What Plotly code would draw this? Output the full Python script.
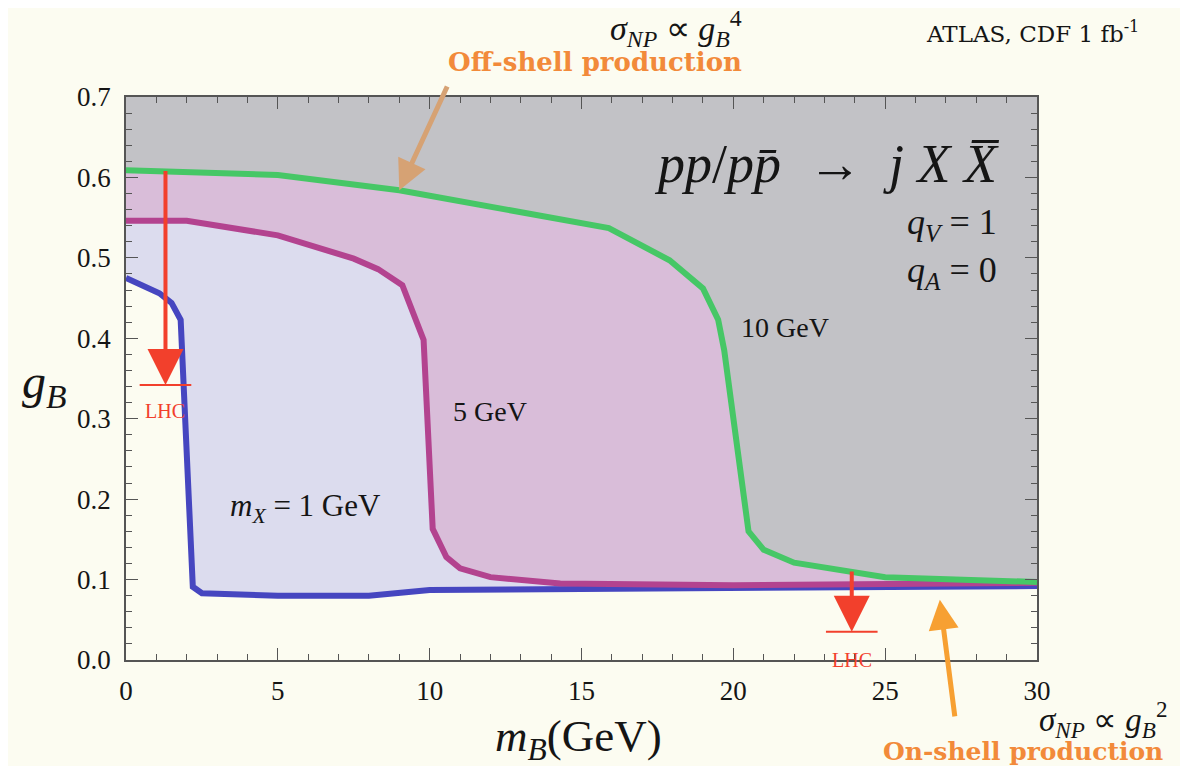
import plotly.graph_objects as go

# ---------------- data ----------------
mB_1 = [0, 1.1, 1.5, 1.8, 2.2, 2.5, 5, 8, 10, 15, 20, 25, 30]
gB_1 = [0.475, 0.456, 0.444, 0.423, 0.091, 0.083, 0.080, 0.080, 0.087, 0.088, 0.089, 0.090, 0.092]

mB_5 = [0, 2, 5, 7.5, 8.3, 9.1, 9.8, 10.1, 10.55, 11.0, 12.0, 14.3, 20, 25, 30]
gB_5 = [0.546, 0.546, 0.528, 0.499, 0.486, 0.466, 0.398, 0.163, 0.128, 0.114, 0.103, 0.095, 0.093, 0.094, 0.096]

mB_10 = [0, 5, 9, 15.9, 17.9, 19.0, 19.5, 19.7, 20.5, 21.0, 22.0, 25.0, 30]
gB_10 = [0.609, 0.603, 0.584, 0.537, 0.497, 0.462, 0.423, 0.385, 0.160, 0.137, 0.121, 0.103, 0.097]

lhc_x = [1.3, 23.9]
lhc_from = [0.61, 0.112]
lhc_limit = [0.342, 0.035]

x_ticks = [0, 5, 10, 15, 20, 25, 30]
y_ticks = [0.0, 0.1, 0.2, 0.3, 0.4, 0.5, 0.6, 0.7]

# ---------------- style ----------------
SERIF = "Liberation Serif"
WIDE = "DejaVu Serif"
BG = "#fcfcf1"
GRAY = "#c2c2c6"
LAV = "#dcdcee"
PINK = "#d9bdd9"
C_BLUE = "#4646c0"
C_MAG = "#b3438f"
C_GRN = "#46c766"
RED = "#f2402c"
ORANGE = "#f28a3a"
INK = "#151515"

fig = go.Figure()

# fills (region boundaries)
fig.add_trace(go.Scatter(x=mB_1, y=gB_1, mode="lines", line=dict(width=0, color=C_BLUE),
                         fill="tozeroy", fillcolor=BG, showlegend=False, hoverinfo="skip"))
fig.add_trace(go.Scatter(x=mB_5, y=gB_5, mode="lines", line=dict(width=0, color=C_MAG),
                         fill="tonexty", fillcolor=LAV, showlegend=False, hoverinfo="skip"))
fig.add_trace(go.Scatter(x=mB_10, y=gB_10, mode="lines", line=dict(width=0, color=C_GRN),
                         fill="tonexty", fillcolor=PINK, showlegend=False, hoverinfo="skip"))

# curves on top
for xs, ys, c in [(mB_1, gB_1, C_BLUE), (mB_5, gB_5, C_MAG), (mB_10, gB_10, C_GRN)]:
    fig.add_trace(go.Scatter(x=xs, y=ys, mode="lines", line=dict(width=6, color=c),
                             showlegend=False, hoverinfo="skip"))

# LHC limit bars
for xv, yl in zip(lhc_x, lhc_limit):
    fig.add_trace(go.Scatter(x=[xv - 0.85, xv + 0.85], y=[yl, yl], mode="lines",
                             line=dict(width=2, color=RED), showlegend=False, hoverinfo="skip"))

ann = []
# LHC arrows
for xv, yf, yl in zip(lhc_x, lhc_from, lhc_limit):
    ann.append(dict(x=xv, y=yl, ax=xv, ay=yf, xref="x", yref="y", axref="x", ayref="y",
                    showarrow=True, arrowhead=2, arrowsize=1.8, arrowwidth=4, arrowcolor=RED,
                    text=""))
ann.append(dict(x=lhc_x[0], y=lhc_limit[0] - 0.032, xref="x", yref="y", text="LHC", showarrow=False,
                font=dict(family=SERIF, size=20, color=RED)))
ann.append(dict(x=lhc_x[1], y=lhc_limit[1] - 0.035, xref="x", yref="y", text="LHC", showarrow=False,
                font=dict(family=SERIF, size=20, color=RED)))

# production arrows
ann.append(dict(x=9.0, y=0.584, ax=10.6, ay=0.715, xref="x", yref="y", axref="x", ayref="y",
                showarrow=True, arrowhead=2, arrowsize=1.2, arrowwidth=5, arrowcolor="#d6a274", text=""))
ann.append(dict(x=26.8, y=0.075, ax=27.3, ay=-0.072, xref="x", yref="y", axref="x", ayref="y",
                showarrow=True, arrowhead=2, arrowsize=1.2, arrowwidth=5, arrowcolor="#f7a032", text=""))

# texts in plot
ann.append(dict(x=23.1, y=0.617, xref="x", yref="y", showarrow=False,
                text="<i>pp</i>/<i>p</i><i>p̄</i>&nbsp;&nbsp;→&nbsp;&nbsp;<i>j</i>&nbsp;<i>X</i>&nbsp;<i>X̅</i>",
                font=dict(family=SERIF, size=54, color=INK)))
ann.append(dict(x=27.2, y=0.541, xref="x", yref="y", showarrow=False,
                text="<i>q</i><sub><i>V</i></sub> = 1", font=dict(family=SERIF, size=36, color=INK)))
ann.append(dict(x=27.2, y=0.482, xref="x", yref="y", showarrow=False,
                text="<i>q</i><sub><i>A</i></sub> = 0", font=dict(family=SERIF, size=36, color=INK)))
ann.append(dict(x=21.7, y=0.413, xref="x", yref="y", showarrow=False,
                text="10 GeV", font=dict(family=SERIF, size=28, color=INK)))
ann.append(dict(x=12.0, y=0.309, xref="x", yref="y", showarrow=False,
                text="5 GeV", font=dict(family=SERIF, size=28, color=INK)))
ann.append(dict(x=5.9, y=0.189, xref="x", yref="y", showarrow=False,
                text="<i>m</i><sub><i>X</i></sub> = 1 GeV", font=dict(family=SERIF, size=31, color=INK)))

# texts outside (paper coords, centre anchored)
def pa(x, y, text, font):
    return dict(x=x, y=y, xref="paper", yref="paper", xanchor="center", yanchor="middle",
                showarrow=False, text=text, font=font)

ann.append(pa(0.604, 1.121, "<i>σ</i><sub><i>NP</i></sub> ∝ <i>g</i><sub><i>B</i></sub><sup>4</sup>",
              dict(family=SERIF, size=34, color=INK)))
ann.append(pa(0.995, 1.115, "ATLAS, CDF 1 fb<sup>-1</sup>", dict(family=WIDE, size=23, color=INK)))
ann.append(pa(0.515, 1.062, "<b>Off-shell production</b>", dict(family=WIDE, size=26, color=ORANGE)))
ann.append(pa(1.072, -0.106, "<i>σ</i><sub><i>NP</i></sub> ∝ <i>g</i><sub><i>B</i></sub><sup>2</sup>",
              dict(family=SERIF, size=33, color=INK)))
ann.append(pa(0.985, -0.162, "<b>On-shell production</b>", dict(family=WIDE, size=25, color=ORANGE)))

# axis titles
ann.append(pa(-0.089, 0.488, "<i>g</i><sub><i>B</i></sub>", dict(family=SERIF, size=48, color=INK)))
ann.append(pa(0.497, -0.140, "<i>m</i><sub><i>B</i></sub>(GeV)", dict(family=SERIF, size=45, color=INK)))

axis_common = dict(showgrid=False, zeroline=False, showline=True, linecolor="#555", linewidth=1.5,
                   mirror="allticks", ticks="inside", ticklen=12, tickcolor="#555", tickwidth=1.2,
                   tickfont=dict(family=SERIF, size=27, color=INK))

fig.update_layout(
    width=1180, height=758,
    margin=dict(l=118, r=151, t=89, b=106),
    paper_bgcolor=BG, plot_bgcolor=GRAY,
    xaxis=dict(range=[0, 30], tickvals=x_ticks, ticktext=[str(v) for v in x_ticks],
               ticklabelstandoff=6,
               minor=dict(dtick=1, ticklen=6, ticks="inside", tickcolor="#555"), **axis_common),
    yaxis=dict(range=[0, 0.7], tickvals=y_ticks, ticktext=[f"{v:.1f}" for v in y_ticks],
               ticklabelstandoff=8,
               minor=dict(dtick=0.02, ticklen=6, ticks="inside", tickcolor="#555"), **axis_common),
    annotations=ann,
)

fig.write_html("out.html")
